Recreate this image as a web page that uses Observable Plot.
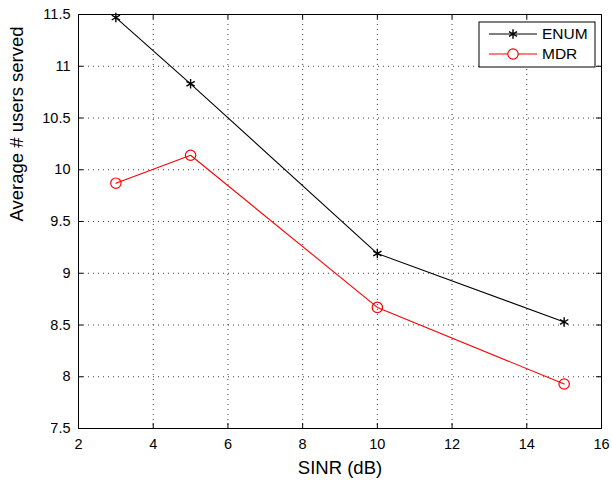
<!DOCTYPE html>
<html>
<head>
<meta charset="utf-8">
<script src="https://cdn.jsdelivr.net/npm/d3@7"></script>
<script src="https://cdn.jsdelivr.net/npm/@observablehq/plot@0.6"></script>
<style>
  html, body { margin: 0; padding: 0; background: #fff; }
  #chart { width: 612px; height: 485px; position: relative; }
  svg { font-family: "Liberation Sans", Arial, sans-serif; }
</style>
</head>
<body>
<div id="chart"></div>
<script>
const sinr = [3, 5, 10, 15];
const enumValues = [11.47, 10.83, 9.19, 8.53];
const mdrValues = [9.87, 10.14, 8.67, 7.93];
const seriesNames = ["ENUM", "MDR"];
const seriesColors = ["#000000", "#ff0000"];
const xTicks = [2, 4, 6, 8, 10, 12, 14, 16];
const yTicks = [7.5, 8, 8.5, 9, 9.5, 10, 10.5, 11, 11.5];
const xLabel = "SINR (dB)";
const yLabel = "Average # users served";

const enumData = sinr.map((x, i) => ({x, y: enumValues[i]}));
const mdrData = sinr.map((x, i) => ({x, y: mdrValues[i]}));

const W = 612, H = 485;
const mL = 78, mR = 11, mT = 14, mB = 57;
const innerW = W - mL - mR, innerH = H - mT - mB;
const tk = 5;

const plot = Plot.plot({
  width: W,
  height: H,
  marginLeft: mL,
  marginRight: mR,
  marginTop: mT,
  marginBottom: mB,
  style: {fontFamily: '"Liberation Sans", Arial, sans-serif', background: "#fff"},
  x: {domain: [2, 16], label: null},
  y: {domain: [7.5, 11.5], label: null},
  marks: [
    Plot.gridX(xTicks, {x: d => d, stroke: "#000", strokeOpacity: 0.75, strokeDasharray: "1,4"}),
    Plot.gridY(yTicks, {y: d => d, stroke: "#000", strokeOpacity: 0.75, strokeDasharray: "1,4"}),
    Plot.ruleX(xTicks, {x: d => d, insetTop: innerH - tk, stroke: "#000"}),
    Plot.ruleX(xTicks, {x: d => d, insetBottom: innerH - tk, stroke: "#000"}),
    Plot.ruleY(yTicks, {y: d => d, insetRight: innerW - tk, stroke: "#000"}),
    Plot.ruleY(yTicks, {y: d => d, insetLeft: innerW - tk, stroke: "#000"}),
    Plot.frame({stroke: "#000"}),
    Plot.axisX({ticks: xTicks, tickSize: 0, tickPadding: 10, fontSize: 14.5, tickFormat: d => String(d), fill: "#000"}),
    Plot.axisY({ticks: yTicks, tickSize: 0, tickPadding: 8, fontSize: 14.5, tickFormat: d => String(d), fill: "#000"}),
    Plot.text([xLabel], {frameAnchor: "bottom", dy: 45, fontSize: 18.5, fill: "#000", text: d => d}),
    Plot.text([yLabel], {frameAnchor: "left", dx: -61, rotate: -90, fontSize: 18.5, fill: "#000", text: d => d}),
    Plot.line(enumData, {x: "x", y: "y", stroke: seriesColors[0], strokeWidth: 1.1}),
    Plot.dot(enumData, {x: "x", y: "y", symbol: "asterisk", r: 4.5, stroke: seriesColors[0], strokeWidth: 1.4}),
    Plot.line(mdrData, {x: "x", y: "y", stroke: seriesColors[1], strokeWidth: 1.1}),
    Plot.dot(mdrData, {x: "x", y: "y", symbol: "circle", r: 5.2, stroke: seriesColors[1], fill: "none", strokeWidth: 1.2})
  ]
});

// Legend box inside the plot area (top right)
const svg = d3.select(plot);
const lg = svg.append("g").attr("transform", "translate(479,22)").attr("text-anchor", "start");
lg.append("rect").attr("width", 116).attr("height", 45).attr("fill", "#fff").attr("stroke", "#000");
const symAst = d3.symbol(d3.symbolAsterisk, 60);
const symCirc = d3.symbol(d3.symbolCircle, 85);
seriesNames.forEach((name, i) => {
  const g = lg.append("g").attr("transform", `translate(0,${12 + i * 20})`);
  g.append("line").attr("x1", 10).attr("x2", 58).attr("y1", 0).attr("y2", 0)
    .attr("stroke", seriesColors[i]).attr("stroke-width", 1.1);
  g.append("path").attr("d", i === 0 ? symAst() : symCirc())
    .attr("transform", "translate(34,0)")
    .attr("fill", i === 0 ? "none" : "#fff")
    .attr("stroke", seriesColors[i]).attr("stroke-width", i === 0 ? 1.4 : 1.2);
  g.append("text").attr("x", 63).attr("y", 0).attr("dy", "0.35em")
    .attr("text-anchor", "start")
    .attr("font-size", 15.5).attr("fill", "#000").text(name);
});

document.getElementById("chart").appendChild(plot);
</script>
</body>
</html>
